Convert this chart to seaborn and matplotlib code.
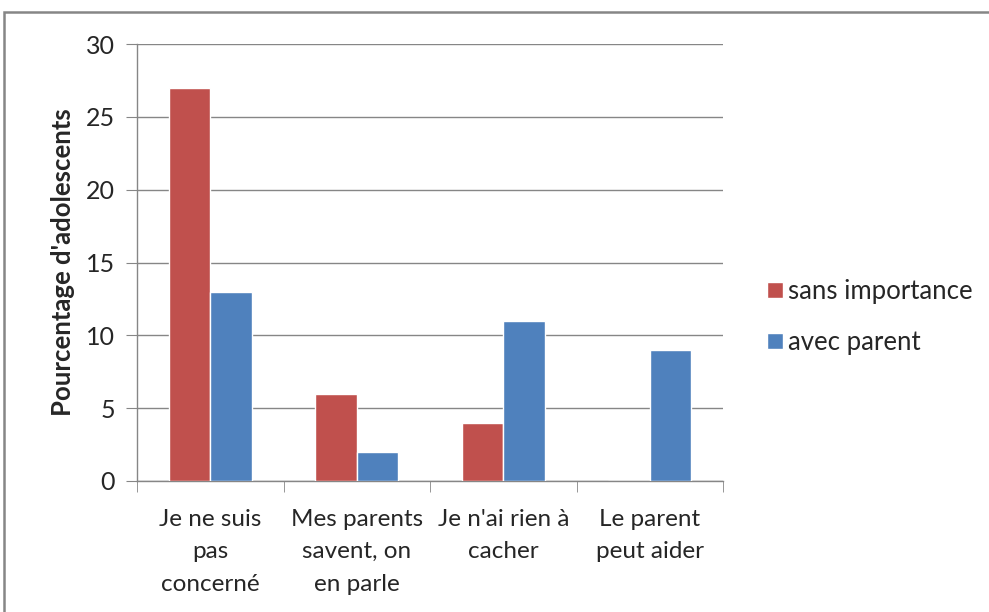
import matplotlib
matplotlib.use("Agg")
import matplotlib.pyplot as plt
import seaborn as sns
import pandas as pd
from matplotlib.patches import Rectangle
from matplotlib.ticker import FixedLocator

categories = ["Je ne suis\npas\nconcerné", "Mes parents\nsavent, on\nen parle",
              "Je n'ai rien à\ncacher", "Le parent\npeut aider"]
series_names = ["sans importance", "avec parent"]
sans_importance = [27, 6, 4, 0]
avec_parent = [13, 2, 11, 9]
y_ticks = [0, 5, 10, 15, 20, 25, 30]

rows = []
for c, a, b in zip(categories, sans_importance, avec_parent):
    rows.append({"cat": c, "serie": series_names[0], "val": a})
    rows.append({"cat": c, "serie": series_names[1], "val": b})
df = pd.DataFrame(rows)

sns.set_style("white")
plt.rcParams["font.family"] = ["Lato", "DejaVu Sans"]

fig = plt.figure(figsize=(9.89, 6.12), dpi=100)
ax = fig.add_axes([137/989, 1-481/612, (723-137)/989, (481-44)/612])

grid_c = "#868686"
sns.barplot(data=df, x="cat", y="val", hue="serie", order=categories,
            hue_order=series_names, palette=["#C0504D", "#4F81BD"],
            width=0.567, gap=0, ax=ax, zorder=3, saturation=1, legend=True)

ax.set_ylim(0, 30)
ax.set_xlim(-0.5, len(categories) - 0.5)
ax.set_yticks(y_ticks)
ax.yaxis.grid(True, color=grid_c, lw=1)
ax.set_axisbelow(True)
for s in ["top", "right"]:
    ax.spines[s].set_visible(False)
for s in ["left", "bottom"]:
    ax.spines[s].set_color(grid_c)
    ax.spines[s].set_linewidth(1)
ax.tick_params(axis="y", length=8, color=grid_c, labelsize=18, pad=8, left=True)
ax.tick_params(axis="x", which="major", length=0, labelsize=17.5, pad=20)
ax.xaxis.set_minor_locator(FixedLocator([i - 0.5 for i in range(len(categories) + 1)]))
ax.tick_params(axis="x", which="minor", length=8, color=grid_c, bottom=True)
for lab in ax.get_xticklabels():
    lab.set_linespacing(1.68)
ax.set_xlabel("")
ax.set_ylabel("Pourcentage d'adolescents", fontsize=18.5, fontweight="bold", labelpad=8)

leg = ax.legend(loc="center left", bbox_to_anchor=(757/989, 1-317/612),
                bbox_transform=fig.transFigure, frameon=False, fontsize=18.5,
                handlelength=0.6, handleheight=0.6, handletextpad=0.2,
                labelspacing=1.0, borderaxespad=0)

fig.patches.append(Rectangle((4/989, -0.1), 1.2, 1 - 12/612 + 0.1,
                             transform=fig.transFigure, fill=False,
                             edgecolor=grid_c, lw=1.8))

fig.savefig("out.png", dpi=100)
